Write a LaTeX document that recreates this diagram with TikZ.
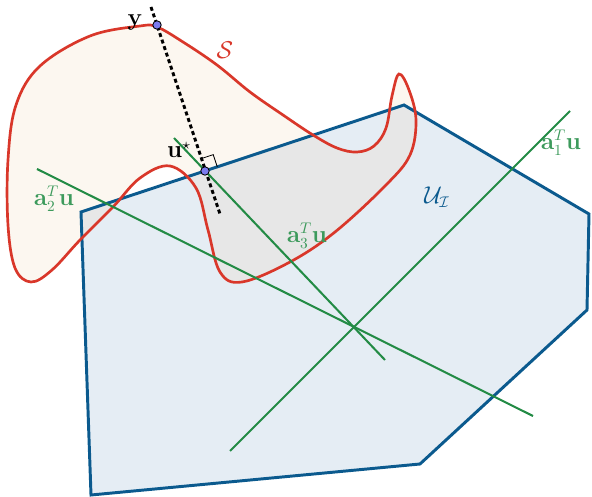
\documentclass[tikz,border=0pt]{standalone}
\usepackage{amsmath,amssymb}
\usetikzlibrary{calc}
\definecolor{SetRed}{HTML}{D9372A}
\definecolor{SetFill}{HTML}{FCF7F0}
\definecolor{PolyBlue}{HTML}{0B5A8E}
\definecolor{PolyFill}{HTML}{E5EDF4}
\definecolor{OverlapFill}{HTML}{E7E7E7}
\definecolor{CutGreen}{HTML}{238B45}
\definecolor{CutLabel}{HTML}{3D9A5C}
\definecolor{PointFill}{HTML}{7B7BEF}
\tikzset{
  set boundary/.style={draw=SetRed, line width=1.9pt},
  poly boundary/.style={draw=PolyBlue, line width=2.1pt, line join=miter},
  cut line/.style={draw=CutGreen, line width=1.45pt},
  cut label/.style={text=CutLabel, font=\fontsize{16}{19}\selectfont, inner sep=0pt},
  point label/.style={text=black, font=\fontsize{16}{19}\selectfont, inner sep=0pt},
  proj line/.style={draw=black, line width=2.1pt, dash pattern=on 2.8pt off 2.1pt},
  sample point/.style={circle, draw=black, fill=PointFill, line width=0.6pt,
    minimum size=6pt, inner sep=0pt},
  right mark/.style={draw=black, line width=0.6pt},
}
\newcommand{\setcurve}{plot[smooth cycle, tension=0.6] coordinates {
  (157,27) (183,42) (217,65) (250,92) (283,115) (313,135) (337,148) (357,152) (374,146)
  (386,128) (392,96) (399,74) (409,90) (416,120) (410,155)
  (386,185) (335,232) (290,262) (242,282) (220,272) (208,230) (196,188)
  (170,166) (140,178) (113,207) (80,240) (52,270) (31,282) (15,268) (8,225)
  (8,160) (16,105) (40,66) (90,36) (140,26)}}

\begin{document}
\begin{tikzpicture}[x=0.025cm, y=-0.025cm]
  \useasboundingbox (0,0) rectangle (592,497);

  % polytope corners
  \coordinate (pA) at (81,212);
  \coordinate (pB) at (404,105);
  \coordinate (pC) at (589,214);
  \coordinate (pD) at (587,310);
  \coordinate (pE) at (420,464);
  \coordinate (pF) at (91,495);

  \fill[SetFill] \setcurve;
  \fill[PolyFill] (pA) -- (pB) -- (pC) -- (pD) -- (pE) -- (pF) -- cycle;
  \begin{scope}
    \clip (pA) -- (pB) -- (pC) -- (pD) -- (pE) -- (pF) -- cycle;
    \fill[OverlapFill] \setcurve;
  \end{scope}
  \draw[poly boundary] (pA) -- (pB) -- (pC) -- (pD) -- (pE) -- (pF) -- cycle;
  \draw[set boundary] \setcurve;

  % linear cuts
  \coordinate (aOneS) at (230,451);
  \coordinate (aOneE) at (570,111);
  \coordinate (aTwoS) at (37,169);
  \coordinate (aTwoE) at (533,416);
  \coordinate (aThreeS) at (174,138);
  \coordinate (aThreeE) at (385,360);
  \draw[cut line] (aOneS) -- (aOneE);
  \draw[cut line] (aTwoS) -- (aTwoE);
  \draw[cut line] (aThreeS) -- (aThreeE);

  % projection of y onto the polytope
  \coordinate (projTop) at (151,7);
  \coordinate (projEnd) at (220,214);
  \coordinate (ystar) at (157,25);
  \coordinate (ustar) at (205,171);
  \draw[proj line] (projTop) -- (projEnd);
  \coordinate (markA) at ($(ustar)!9.2pt!(pB)$);
  \coordinate (markB) at ($(ustar)!9.2pt!(ystar)$);
  \draw[right mark] (markA) -- ($(markA)+(markB)-(ustar)$) -- (markB);
  \node[sample point] (yPt) at (ystar) {};
  \node[sample point] (uPt) at (ustar) {};

  \node[point label] (yLabel) at (135,22) {$\mathbf{y}$};
  \node[point label] (uLabel) at (179,150) {$\mathbf{u}^{\star}$};
  \node[text=SetRed, font=\fontsize{16}{19}\selectfont, inner sep=0pt] (sLabel) at (225,50) {$\mathcal{S}$};
  \node[text=PolyBlue, font=\fontsize{16}{19}\selectfont, inner sep=0pt] (uiLabel) at (437,197) {$\mathcal{U}_{\mathcal{I}}$};
  \node[cut label] (aOneLabel) at (561,143) {$\mathbf{a}_1^T\mathbf{u}$};
  \node[cut label] (aTwoLabel) at (54,199) {$\mathbf{a}_2^T\mathbf{u}$};
  \node[cut label] (aThreeLabel) at (307,236) {$\mathbf{a}_3^T\mathbf{u}$};
\end{tikzpicture}
\end{document}
